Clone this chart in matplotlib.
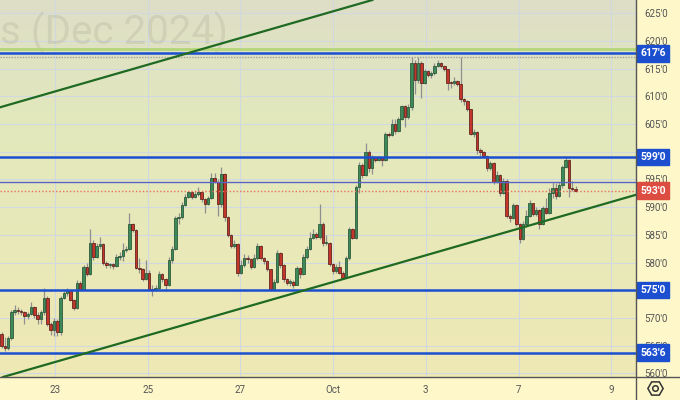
import numpy as np
import matplotlib.pyplot as plt
from matplotlib.transforms import blended_transform_factory
from matplotlib.colors import LinearSegmentedColormap
from matplotlib.lines import Line2D

plt.rcParams['font.family'] = ['Roboto', 'DejaVu Sans']

# hourly bars, wheat Dec 2024
first_open = 567.2
closes = [565.0, 564.5, 566.3, 571.0, 571.5, 571.2, 571.0, 570.3, 570.8, 572.0,
          570.5, 569.8, 571.0, 573.7, 569.0, 567.8, 569.5, 567.4, 573.7, 574.5,
          575.0, 573.2, 571.8, 576.4, 575.3, 579.2, 578.0, 583.5, 581.0, 583.0,
          583.3, 579.9, 579.5, 579.7, 579.4, 581.0, 581.2, 582.2, 582.5, 587.0,
          585.8, 579.0, 578.8, 577.0, 578.2, 575.3, 575.0, 575.5, 578.0, 577.0,
          576.0, 580.5, 582.5, 588.0, 588.2, 590.4, 591.8, 592.7, 591.8, 592.4,
          592.7, 591.5, 590.5, 591.6, 595.2, 594.6, 590.5, 596.0, 588.2, 585.0,
          583.0, 583.4, 578.2, 579.5, 580.8, 580.6, 579.2, 580.8, 583.0, 580.8,
          580.2, 578.8, 575.3, 576.5, 581.7, 579.5, 577.0, 576.4, 576.5, 576.0,
          579.0, 578.0, 581.0, 582.5, 584.5, 585.2, 584.6, 587.0, 583.5, 583.6,
          579.7, 578.5, 579.2, 578.2, 577.3, 580.8, 586.0, 584.5, 593.6, 597.6,
          595.8, 600.0, 597.0, 599.0, 598.6, 598.9, 598.5, 603.3, 603.0, 605.0,
          603.8, 606.0, 608.2, 606.2, 608.0, 616.0, 613.0, 616.0, 612.5, 614.6,
          613.8, 614.2, 615.5, 616.0, 615.5, 615.0, 612.5, 612.4, 612.8, 612.2,
          609.5, 609.2, 607.8, 603.3, 603.6, 600.3, 600.0, 599.3, 597.0, 598.0,
          594.5, 595.8, 592.5, 594.8, 588.5, 588.0, 590.4, 587.0, 584.2, 587.0,
          588.5, 590.7, 588.8, 589.5, 587.0, 589.8, 589.0, 592.5, 593.5, 592.0,
          594.0, 597.2, 598.5, 593.4, 593.3, 593.0]
highs = [567.5, 566.5, 566.8, 571.5, 572.3, 572.0, 571.6, 571.3, 571.0, 572.8,
         572.2, 571.0, 571.5, 575.5, 574.0, 569.3, 570.0, 569.8, 574.0, 575.0,
         575.5, 575.2, 573.5, 576.8, 576.6, 579.6, 580.0, 586.0, 584.0, 583.5,
         584.6, 583.6, 580.2, 580.0, 580.0, 581.5, 582.0, 583.5, 583.0, 589.0,
         587.2, 586.0, 580.8, 579.0, 580.5, 578.6, 576.0, 576.0, 578.5, 578.2,
         577.2, 581.0, 583.0, 588.5, 589.0, 591.0, 592.4, 593.0, 592.8, 593.0,
         593.6, 592.8, 591.6, 592.0, 596.2, 596.1, 595.0, 597.2, 596.1, 588.5,
         585.2, 584.0, 583.6, 580.5, 581.5, 581.4, 580.9, 581.5, 583.6, 583.2,
         581.0, 580.5, 578.7, 577.0, 582.3, 582.0, 579.8, 577.3, 577.0, 576.8,
         579.3, 579.2, 581.5, 583.0, 585.5, 586.0, 585.5, 590.5, 587.3, 585.0,
         583.8, 580.0, 579.8, 580.2, 578.5, 581.2, 586.5, 586.3, 594.0, 598.2,
         598.0, 601.5, 600.3, 599.5, 599.3, 599.3, 599.0, 603.6, 603.5, 606.0,
         606.0, 606.3, 608.5, 608.5, 608.6, 617.2, 616.5, 617.2, 616.3, 615.0,
         614.8, 614.6, 616.0, 616.5, 616.2, 615.7, 615.0, 612.8, 613.5, 613.0,
         617.2, 609.8, 609.3, 607.7, 604.2, 603.8, 600.6, 600.2, 599.5, 598.3,
         598.1, 596.5, 596.0, 595.2, 595.0, 588.8, 590.8, 590.5, 587.2, 587.5,
         589.5, 591.3, 590.8, 590.0, 589.6, 590.3, 591.6, 593.5, 594.5, 594.4,
         594.5, 597.6, 599.0, 598.7, 594.7, 593.8]
lows = [564.5, 564.0, 564.2, 566.0, 570.5, 570.8, 570.5, 569.0, 569.8, 570.5,
        570.0, 569.0, 569.0, 570.5, 568.5, 567.0, 566.8, 566.8, 567.0, 573.5,
        574.0, 573.0, 571.5, 571.6, 575.0, 575.0, 577.5, 577.8, 580.5, 580.8,
        582.5, 579.5, 579.0, 579.0, 578.8, 579.2, 580.5, 580.3, 582.0, 582.2,
        585.5, 578.8, 578.2, 576.6, 576.8, 575.0, 574.0, 574.8, 575.3, 576.5,
        574.8, 575.8, 580.0, 582.3, 587.0, 587.8, 590.2, 591.6, 591.5, 591.7,
        592.0, 591.0, 589.0, 590.4, 591.5, 594.3, 588.5, 590.0, 587.5, 584.6,
        582.6, 582.7, 577.5, 578.0, 579.2, 580.0, 578.8, 579.0, 580.5, 580.5,
        579.8, 578.5, 575.0, 575.2, 576.4, 579.0, 576.5, 576.0, 575.8, 575.5,
        575.9, 577.2, 577.8, 580.6, 582.3, 584.2, 584.2, 584.3, 583.0, 583.2,
        579.3, 578.0, 578.2, 577.9, 577.0, 577.2, 580.5, 584.2, 584.3, 592.5,
        595.3, 595.6, 596.3, 596.0, 598.2, 598.3, 597.5, 598.3, 602.7, 602.8,
        603.3, 603.6, 605.8, 604.5, 606.0, 607.5, 610.5, 612.5, 609.8, 612.3,
        613.5, 613.3, 613.8, 615.3, 615.2, 614.6, 611.1, 611.5, 612.0, 611.8,
        609.0, 608.5, 607.4, 603.0, 602.7, 599.6, 598.8, 598.9, 596.6, 596.8,
        594.2, 594.3, 592.0, 592.3, 588.0, 587.4, 587.8, 586.6, 583.6, 584.0,
        586.5, 588.3, 588.5, 588.5, 586.0, 586.8, 588.7, 588.8, 591.6, 591.5,
        591.8, 593.5, 597.0, 591.8, 593.0, 592.7]

# trading-day axis: 0 = Sep 23
first_day, last_day = -1.154, 11.23
day_ticks = [0, 2, 4, 6, 8, 10, 12]
day_labels = ['23', '25', '27', 'Oct', '3', '7', '9']
price_ticks = list(range(560, 630, 5))

blue_levels = [617.75, 599.0, 575.0, 563.75]
thin_level = 594.5
green_level = 618.55
dotted_level = 617.2
upper_channel = [(-1.187, 608.03), (6.149, 625.72)]
lower_channel = [(6.149, 576.86), (12.535, 592.24)]


def eighths(p):
    whole = int(np.floor(p + 1e-9))
    return "%d'%d" % (whole, int(round((p - whole) * 8)))


fig = plt.figure(figsize=(6.8, 4.0), dpi=100, facecolor='#fdf7c9')
ax = fig.add_axes([0, 23 / 400, 636 / 680, 377 / 400])

bg = LinearSegmentedColormap.from_list('bg', [(0, '#dedec7'), (0.3, '#e2e8bd'), (1, '#efe9b4')])
ax.imshow(np.linspace(0, 1, 256).reshape(-1, 1), cmap=bg, extent=[0, 1, 0, 1],
          transform=ax.transAxes, aspect='auto', zorder=0)

ax.text(228 / 636, 1 - 33 / 377, 's (Dec 2024)', transform=ax.transAxes,
        ha='right', va='center', fontsize=29, color='#8c8c78', alpha=0.18, zorder=1)

# candles
c = np.array(closes)
h = np.array(highs)
l = np.array(lows)
o = np.r_[first_open, c[:-1]]
x = np.linspace(first_day, last_day, len(c))
step = x[1] - x[0]
up = c >= o
fill = np.where(up, '#3b8a57', '#c4352b')
edge = np.where(up, '#1d4a2e', '#4d1510')
ax.vlines(x, l, h, color='#8f8f8f', lw=0.9, zorder=3)
body = np.maximum(np.abs(c - o), 0.2)
ax.bar(x, body, bottom=np.minimum(o, c), width=step * 0.75, color=fill,
       edgecolor=edge, linewidth=0.5, zorder=4)

# levels and channel
ax.axhline(green_level, color='#b4d67a', lw=2, zorder=5)
ax.axhline(dotted_level, color='#a0a0a0', lw=1, ls=(0, (1, 1)), zorder=5)
for lv in blue_levels:
    ax.axhline(lv, color='#1c4fcf', lw=1.8, zorder=6)
ax.axhline(thin_level, color='#5a63c8', lw=1, zorder=6)
ax.axhline(c[-1], color='#e8705f', lw=1, ls=(0, (1, 1.5)), zorder=6)
ax.axline(*upper_channel, color='#1f6a22', lw=1.6, zorder=6)
ax.axline(*lower_channel, color='#1f6a22', lw=1.6, zorder=6)

ax.set_xlim(-1.187, 12.535)
ax.set_ylim(559.35, 627.4)

# scale labels that sit fully under a price tag are not shown
hidden = [p for p in price_ticks if min(abs(p - lv) for lv in blue_levels) < 1.2]
ax.set_xticks(day_ticks)
ax.set_xticklabels(day_labels)
ax.set_yticks(price_ticks)
ax.set_yticklabels(['' if p in hidden else eighths(p) for p in price_ticks])
ax.yaxis.tick_right()
ax.tick_params(axis='both', length=0, labelsize=7, labelcolor='#555555')
ax.tick_params(axis='y', pad=6)
ax.tick_params(axis='x', pad=6)
ax.grid(color='#d2d8df', lw=0.8)
ax.set_axisbelow(True)
for s in ax.spines.values():
    s.set_visible(False)

# price tags on the scale
tr = blended_transform_factory(ax.transAxes, ax.transData)
tags = [(lv, '#1c4fcf') for lv in blue_levels] + [(c[-1], '#dd4c41')]
for lv, col in tags:
    ax.annotate(eighths(lv), xy=(1, lv), xycoords=tr, xytext=(3, 0),
                textcoords='offset points', ha='left', va='center', fontsize=7.5,
                fontweight='bold', color='white', annotation_clip=False, zorder=10,
                bbox=dict(boxstyle='square,pad=0.3', fc=col, ec=col))

fig.add_artist(Line2D([636 / 680, 636 / 680], [0, 1], transform=fig.transFigure,
                      color='#555555', lw=1))
fig.add_artist(Line2D([0, 1], [23 / 400, 23 / 400], transform=fig.transFigure,
                      color='#555555', lw=1))
fig.add_artist(Line2D([655 / 680], [12 / 400], transform=fig.transFigure, marker='H',
                      ms=11, mfc='none', mec='#333333', mew=1.1))
fig.add_artist(Line2D([655 / 680], [12 / 400], transform=fig.transFigure, marker='o',
                      ms=4, mfc='none', mec='#333333', mew=1.1))

fig.savefig('out.png', dpi=100, facecolor=fig.get_facecolor())
